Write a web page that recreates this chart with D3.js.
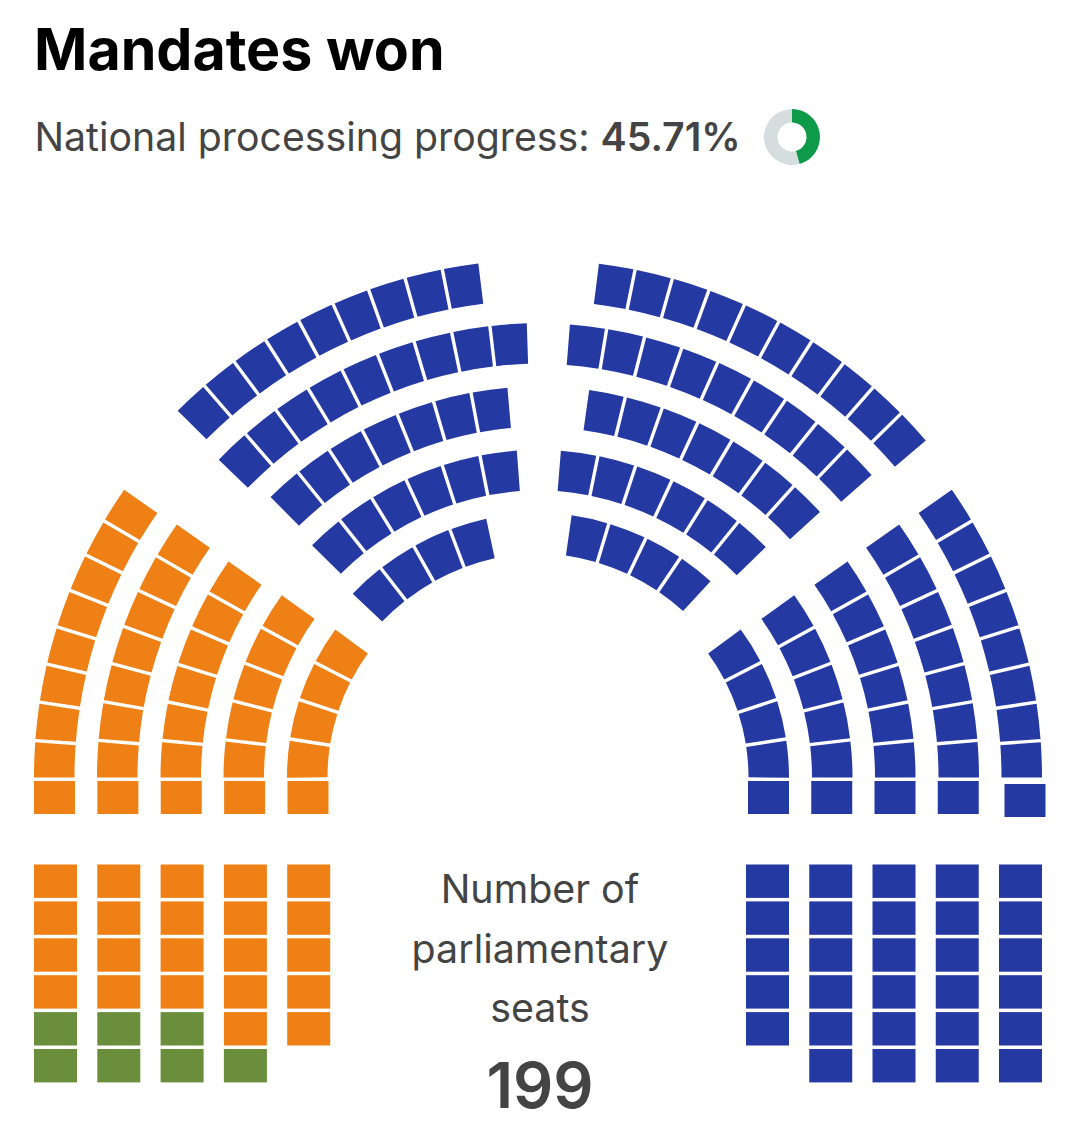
<!DOCTYPE html>
<html>
<head>
<meta charset="utf-8">
<script src="https://cdn.jsdelivr.net/npm/d3@7"></script>
<style>
html, body { margin: 0; background: #fff; }
svg { display: block; font-family: Inter, sans-serif; }
</style>
</head>
<body>
<script>
// seats per row, outermost row first
var sideRows = [9, 8, 7, 6, 5],
  topLeftRows = [9, 9, 7, 6, 4],
  topRightRows = [10, 9, 7, 6, 4]

// bottom stacks, one entry per column
var stackOrange = [4, 4, 4, 5, 5],
  stackGreen = [2, 2, 2, 1, 0],
  stackBlue = [5, 6, 6, 6, 6]

var progress = [45.71, 54.29],
  captionLines = ['Number of', 'parliamentary', 'seats'],
  totalSeats = 199

var width = 1079,
  height = 1134,
  orange = '#ef8015',
  green = '#6b8e3d',
  blue = '#2539a3',
  textGrey = '#444444',
  rad = Math.PI / 180,
  gap = 3.4,
  thick = 40.5

var svg = d3.select('body').append('svg').attr('width', width).attr('height', height)

// padRadius big and padAngle small, so the gap between seats stays the same width
var arc = d3.arc().padRadius(1000).padAngle(gap / 1000)

// draws one block of curved rows; from/to are the seat-edge angles in degrees
function curvedBlock(cx, cy, counts, radii, from, to, color) {
  var g = svg.append('g').attr('transform', 'translate(' + cx + ',' + cy + ')')
  counts.forEach(function(n, row) {
    var outer = radii[row],
      inner = outer - thick,
      mid = (outer + inner) / 2,
      extra = gap / 2 / mid / rad,
      dir = to[row] > from[row] ? 1 : -1,
      angle = d3
        .scaleLinear()
        .domain([0, n])
        .range([from[row] - dir * extra, to[row] + dir * extra])
    g.selectAll(null)
      .data(d3.range(n))
      .enter()
      .append('path')
      .attr('fill', color)
      .attr('d', function(i) {
        return arc({
          innerRadius: inner,
          outerRadius: outer,
          startAngle: angle(i) * rad,
          endAngle: angle(i + 1) * rad
        })
      })
  })
}

var topRadii = [516.5, 453, 390, 326.5, 263.5],
  sideRadii = [504, 441, 377.5, 314.5, 251],
  sideEnd = [34.8, 35, 34.9, 35.4, 36.1]

curvedBlock(543, 776, topLeftRows, topRadii,
  [-45, -45.7, -44.3, -45, -46.2], [-7.2, -2.06, -5.25, -4.62, -12.47], blue)
curvedBlock(533, 776, topRightRows, topRadii,
  [7.34, 4.68, 8.3, 4.92, 8.46], [49.5, 48.36, 47.36, 45.46, 42.33], blue)

// side arcs: the first seat of each row is the flat one under the curve
curvedBlock(538, 777.5, sideRows.map(function(d) { return d - 1 }), sideRadii,
  [-90, -90, -90, -90, -90], sideEnd.map(function(d) { return d - 90 }), orange)
curvedBlock(538, 777.5, sideRows.map(function(d) { return d - 1 }), sideRadii,
  [90, 90, 90, 90, 90], sideEnd.map(function(d) { return 90 - d }), blue)

// flat seats closing each arc row
var flatLeft = d3.scaleLinear().domain([0, 4]).range([34, 287.5]),
  flatRight = d3.scaleLinear().domain([0, 4]).range([1001, 748])

svg.selectAll('.flat-left')
  .data(sideRows)
  .enter()
  .append('rect')
  .attr('class', 'flat-left')
  .attr('x', function(d, i) { return flatLeft(i) })
  .attr('y', 781)
  .attr('width', 41)
  .attr('height', 33)
  .attr('fill', orange)

svg.selectAll('.flat-right')
  .data(sideRows)
  .enter()
  .append('rect')
  .attr('class', 'flat-right')
  .attr('x', function(d, i) { return flatRight(i) + (i === 0 ? 3.5 : 0) })
  .attr('y', function(d, i) { return i === 0 ? 784 : 781 })
  .attr('width', 41)
  .attr('height', 33)
  .attr('fill', blue)

// bottom stacks
var stackY = d3.scaleLinear().domain([0, 6]).range([864.5, 1085.9]),
  stackXLeft = d3.scaleLinear().domain([0, 4]).range([34, 287.2]),
  stackXRight = d3.scaleLinear().domain([0, 4]).range([746, 999]),
  seatW = 43,
  seatH = 33.4

function stack(x, first, n, color) {
  svg.append('g')
    .selectAll('rect')
    .data(d3.range(first, first + n))
    .enter()
    .append('rect')
    .attr('x', x)
    .attr('y', function(d) { return stackY(d) })
    .attr('width', seatW)
    .attr('height', seatH)
    .attr('fill', color)
}

stackOrange.forEach(function(n, i) {
  stack(stackXLeft(i), 0, n, orange)
  stack(stackXLeft(i), n, stackGreen[i], green)
})
stackBlue.forEach(function(n, i) {
  stack(stackXRight(i), 0, n, blue)
})

// header
svg.append('text')
  .attr('x', 34)
  .attr('y', 70)
  .attr('font-size', 57.3)
  .attr('font-weight', 700)
  .attr('fill', '#000')
  .text('Mandates won')

var sub = svg.append('text')
  .attr('x', 34.5)
  .attr('y', 151)
  .attr('font-size', 39.25)
  .attr('fill', textGrey)
sub.append('tspan').text('National processing progress: ')
sub.append('tspan').attr('font-weight', 600).text(d3.format('.2f')(progress[0]) + '%')

// progress ring
var ring = svg.append('g').attr('transform', 'translate(792,137)'),
  ringColor = d3.scaleOrdinal().domain([0, 1]).range(['#0e9a48', '#d5dddf']),
  ringArc = d3.arc().innerRadius(14.5).outerRadius(28)

ring.selectAll('path')
  .data(d3.pie().sort(null)(progress))
  .enter()
  .append('path')
  .attr('fill', function(d, i) { return ringColor(i) })
  .attr('d', ringArc)

// caption in the middle
svg.selectAll('.caption')
  .data(captionLines)
  .enter()
  .append('text')
  .attr('class', 'caption')
  .attr('x', 540)
  .attr('y', function(d, i) { return 903 + i * 59.5 })
  .attr('text-anchor', 'middle')
  .attr('font-size', 39.4)
  .attr('fill', textGrey)
  .text(function(d) { return d })

svg.append('text')
  .attr('x', 540)
  .attr('y', 1108)
  .attr('text-anchor', 'middle')
  .attr('font-size', 63)
  .attr('font-weight', 600)
  .attr('fill', textGrey)
  .text(totalSeats)
</script>
</body>
</html>
